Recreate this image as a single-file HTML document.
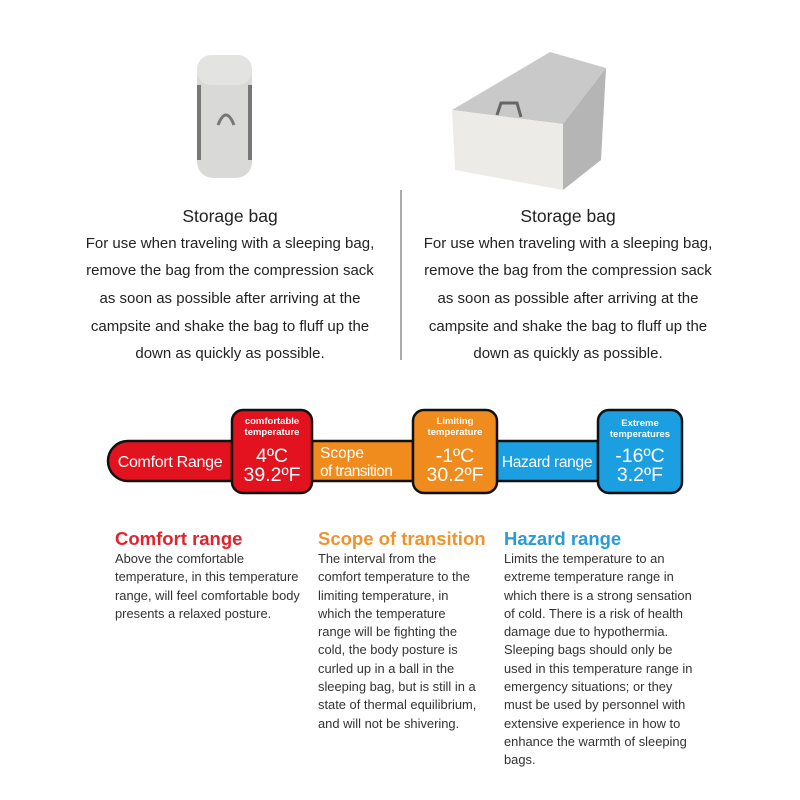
<!DOCTYPE html>
<html><head><meta charset="utf-8">
<style>
html,body{margin:0;padding:0;background:#fff;}
body{width:800px;height:800px;position:relative;overflow:hidden;font-family:"Liberation Sans",sans-serif;}
.t{position:absolute;white-space:nowrap;}
.c{transform:translateX(-50%);}
.st{font-size:15px;color:#222;}
.h{font-size:17.5px;color:#222;}
.bd{font-size:12.9px;color:#333;}
.hd{font-size:18.5px;font-weight:bold;}
</style></head><body>
<svg width="800" height="800" style="position:absolute;left:0;top:0">
 <!-- compression sack -->
 <rect x="197" y="55" width="55" height="123" rx="16" fill="#d9d9d7"/>
 <rect x="197" y="55" width="55" height="30" rx="14" fill="#e3e3e1"/>
 <rect x="197" y="85" width="4" height="75" fill="#777"/>
 <rect x="248" y="85" width="4" height="75" fill="#777"/>
 <path d="M218 125 q8 -20 16 0" stroke="#777" stroke-width="3" fill="none"/>
 <!-- box -->
 <polygon points="452,110 550,52 606,68 563,124" fill="#c9c9c9"/>
 <polygon points="563,124 606,68 601,160 563,190" fill="#b5b5b5"/>
 <polygon points="452,110 563,124 563,190 455,170" fill="#ecebe7"/>
 <path d="M497 115 l4 -12 h16 l4 14" stroke="#666" stroke-width="3" fill="none"/>
 <line x1="401" y1="190" x2="401" y2="360" stroke="#555" stroke-width="1"/>
 <!-- bar -->
 <g stroke="#111" stroke-width="2.5">
  <path d="M128 441 H232 V481 H128 A20 20 0 0 1 128 441 Z" fill="#e2131f"/>
  <rect x="312" y="441" width="101" height="40" fill="#f08b1d"/>
  <rect x="497" y="441" width="101" height="40" fill="#1c9fe0"/>
  <rect x="232" y="410" width="80" height="83" rx="11" fill="#e2131f"/>
  <rect x="413" y="410" width="84" height="83" rx="11" fill="#f08b1d"/>
  <rect x="598" y="410" width="84" height="83" rx="11" fill="#1c9fe0"/>
 </g>
 <g fill="#fff" font-family="Liberation Sans, sans-serif">
  <text x="170" y="467" font-size="16" text-anchor="middle" letter-spacing="-0.3">Comfort Range</text>
  <text x="272" y="424" font-size="9.5" font-weight="bold" text-anchor="middle">comfortable</text>
  <text x="272" y="435" font-size="9.5" font-weight="bold" text-anchor="middle">temperature</text>
  <text x="272" y="462" font-size="19.5" text-anchor="middle">4ºC</text>
  <text x="272" y="481" font-size="19.5" text-anchor="middle">39.2ºF</text>
  <text x="320" y="458" font-size="15.5">Scope</text>
  <text x="320" y="476" font-size="15.5" letter-spacing="-0.6">of transition</text>
  <text x="455" y="424" font-size="9.5" font-weight="bold" text-anchor="middle">Limiting</text>
  <text x="455" y="435" font-size="9.5" font-weight="bold" text-anchor="middle">temperature</text>
  <text x="455" y="462" font-size="19.5" text-anchor="middle">-1ºC</text>
  <text x="455" y="481" font-size="19.5" text-anchor="middle">30.2ºF</text>
  <text x="547" y="467" font-size="15.5" text-anchor="middle" letter-spacing="-0.3">Hazard range</text>
  <text x="640" y="426" font-size="9.5" font-weight="bold" text-anchor="middle">Extreme</text>
  <text x="640" y="437" font-size="9.5" font-weight="bold" text-anchor="middle">temperatures</text>
  <text x="640" y="462" font-size="19.5" text-anchor="middle">-16ºC</text>
  <text x="640" y="481" font-size="19.5" text-anchor="middle">3.2ºF</text>
 </g>
</svg>

<div class="t c h" style="left:230px;top:206px">Storage bag</div>
<div class="t c st" style="left:230px;top:235px">For use when traveling with a sleeping bag,</div>
<div class="t c st" style="left:230px;top:262px">remove the bag from the compression sack</div>
<div class="t c st" style="left:230px;top:290px">as soon as possible after arriving at the</div>
<div class="t c st" style="left:230px;top:318px">campsite and shake the bag to fluff up the</div>
<div class="t c st" style="left:230px;top:345px">down as quickly as possible.</div>

<div class="t c h" style="left:568px;top:206px">Storage bag</div>
<div class="t c st" style="left:568px;top:235px">For use when traveling with a sleeping bag,</div>
<div class="t c st" style="left:568px;top:262px">remove the bag from the compression sack</div>
<div class="t c st" style="left:568px;top:290px">as soon as possible after arriving at the</div>
<div class="t c st" style="left:568px;top:318px">campsite and shake the bag to fluff up the</div>
<div class="t c st" style="left:568px;top:345px">down as quickly as possible.</div>

<div class="t hd" style="left:115px;top:528px;color:#e2232e">Comfort range</div>
<div class="t hd" style="left:318px;top:528px;color:#f0932b">Scope of transition</div>
<div class="t hd" style="left:504px;top:528px;color:#2a9ad8">Hazard range</div>

<div class="t bd" style="left:115px;top:550px;line-height:18.3px">Above the comfortable<br>temperature, in this temperature<br>range, will feel comfortable body<br>presents a relaxed posture.</div>
<div class="t bd" style="left:318px;top:550px;line-height:18.3px">The interval from the<br>comfort temperature to the<br>limiting temperature, in<br>which the temperature<br>range will be fighting the<br>cold, the body posture is<br>curled up in a ball in the<br>sleeping bag, but is still in a<br>state of thermal equilibrium,<br>and will not be shivering.</div>
<div class="t bd" style="left:504px;top:550px;line-height:18.3px">Limits the temperature to an<br>extreme temperature range in<br>which there is a strong sensation<br>of cold. There is a risk of health<br>damage due to hypothermia.<br>Sleeping bags should only be<br>used in this temperature range in<br>emergency situations; or they<br>must be used by personnel with<br>extensive experience in how to<br>enhance the warmth of sleeping<br>bags.</div>
</body></html>
